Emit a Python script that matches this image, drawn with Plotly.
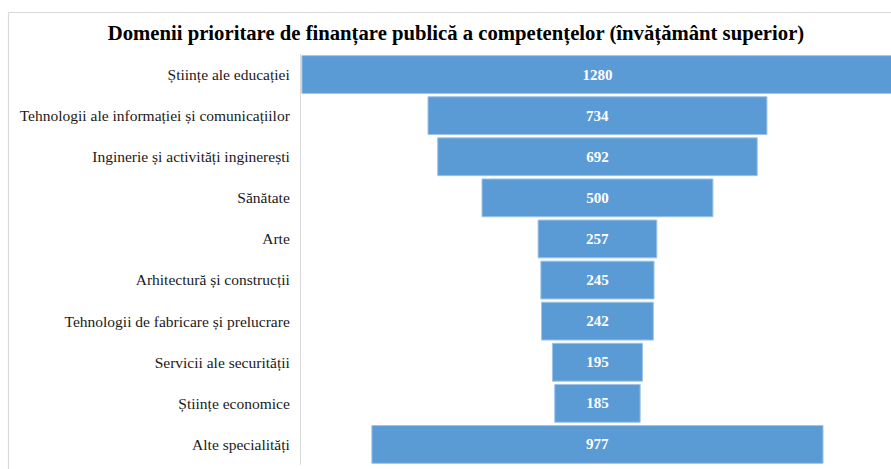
import plotly.graph_objects as go

# Priority areas for public funding of skills (higher education)
domains = [
    "Științe ale educației",
    "Tehnologii ale informației și comunicațiilor",
    "Inginerie și activități inginerești",
    "Sănătate",
    "Arte",
    "Arhitectură și construcții",
    "Tehnologii de fabricare și prelucrare",
    "Servicii ale securității",
    "Științe economice",
    "Alte specialități",
]
counts = [1280, 734, 692, 500, 257, 245, 242, 195, 185, 977]

title_text = "Domenii prioritare de finanțare publică a competențelor (învățământ superior)"

W, H = 891, 469
L, R, T, B = 301, 0, 54, 4
plot_w = W - L - R
plot_h = H - T - B

fig = go.Figure(
    go.Funnel(
        y=domains,
        x=counts,
        textinfo="value",
        textposition="inside",
        textfont=dict(family="Liberation Serif", size=15, color="white"),
        texttemplate="<b>%{value}</b>",
        marker=dict(color="#5B9BD5", line=dict(color="#9DC3E6", width=1)),
        connector=dict(visible=False),
        hoverinfo="y+x",
    )
)


def px_x(p):
    return (p - L) / plot_w


def px_y(p):
    return (H - B - p) / plot_h


# thin frame around the chart area (top and left edges)
frame = "#D9D9D9"
fig.add_shape(type="line", xref="paper", yref="paper",
              x0=px_x(8.5), x1=px_x(W + 5), y0=px_y(12.5), y1=px_y(12.5),
              line=dict(color=frame, width=1.2))
fig.add_shape(type="line", xref="paper", yref="paper",
              x0=px_x(8.5), x1=px_x(8.5), y0=px_y(12.5), y1=px_y(H + 5),
              line=dict(color=frame, width=1.2))

fig.update_layout(
    width=W,
    height=H,
    margin=dict(l=L, r=R, t=T, b=B),
    paper_bgcolor="white",
    plot_bgcolor="white",
    showlegend=False,
    funnelgap=0.08,
    title=dict(
        text="<b>" + title_text + "</b>",
        x=456 / W,
        xanchor="center",
        y=1 - 33 / H,
        yanchor="middle",
        font=dict(family="Liberation Serif", size=20.7, color="black"),
    ),
    xaxis=dict(
        range=[-642, 635.7],
        visible=False,
        fixedrange=True,
    ),
    yaxis=dict(
        showline=True,
        linecolor="#D9D9D9",
        linewidth=1.2,
        ticks="",
        ticklabelstandoff=7,
        tickfont=dict(family="Liberation Serif", size=15.5, color="#1a1a1a"),
        showgrid=False,
    ),
)

fig.write_html("out.html")
